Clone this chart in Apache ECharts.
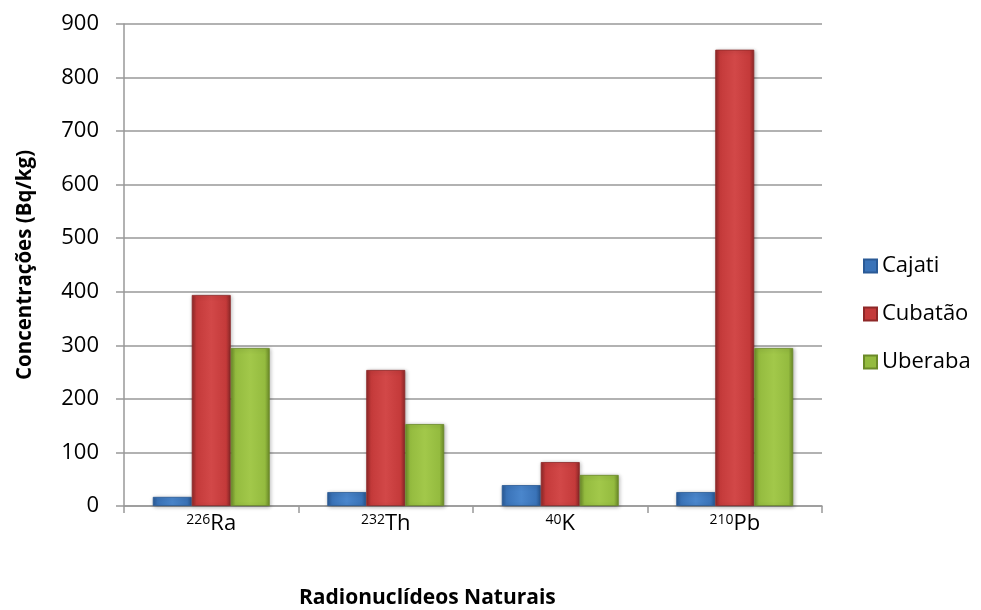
<!DOCTYPE html>
<html><head><meta charset="utf-8">
<script src="https://cdn.jsdelivr.net/npm/echarts@6/dist/echarts.min.js"></script>
<style>html,body{margin:0;padding:0;background:#fff}#c{width:981px;height:610px}</style>
</head><body><div id="c"></div>
<script>
const categories = ['{sup|226}Ra', '{sup|232}Th', '{sup|40}K', '{sup|210}Pb'];
const seriesNames = ['Cajati', 'Cubatão', 'Uberaba'];
const cajati = [17, 26, 39, 26];
const cubatao = [394, 254, 82, 852];
const uberaba = [295, 153, 58, 295];
const yTicks = { min: 0, max: 900, interval: 100 };

const FONT = '"Open Sans", Lato, sans-serif';
function grad(dark, body, light) {
  return new echarts.graphic.LinearGradient(0, 0, 1, 0, [
    { offset: 0, color: dark }, { offset: 0.12, color: body },
    { offset: 0.5, color: light }, { offset: 0.88, color: body },
    { offset: 1, color: dark }
  ]);
}
const styles = [
  { color: grad('#2a5a96', '#3a73b8', '#4a86cc'), border: '#2a5a96', legend: '#3a73b8' },
  { color: grad('#8e2828', '#c43a3a', '#d24848'), border: '#8e2828', legend: '#c43a3a' },
  { color: grad('#6b8a28', '#94bb3f', '#a2c84a'), border: '#6b8a28', legend: '#94bb3f' }
];
const dataSets = [cajati, cubatao, uberaba];

const chart = echarts.init(document.getElementById('c'));
chart.setOption({
  animation: false,
  textStyle: { fontFamily: FONT },
  title: {
    text: 'Radionuclídeos Naturais',
    left: 294, top: 583,
    textStyle: { fontFamily: FONT, fontSize: 21, fontWeight: 'bold', color: '#000' }
  },
  legend: {
    orient: 'vertical', left: 858, top: 250, itemGap: 26,
    icon: 'rect', itemWidth: 13, itemHeight: 13,
    textStyle: { fontFamily: FONT, fontSize: 22, color: '#000' },
    data: seriesNames.map((n, i) => ({ name: n, itemStyle: { color: styles[i].legend } }))
  },
  grid: { left: 124, right: 159, top: 24, bottom: 104 },
  xAxis: {
    type: 'category', data: categories,
    axisLine: { lineStyle: { color: '#999', width: 1.5 } },
    axisTick: { show: true, length: 7, lineStyle: { color: '#999', width: 1.5 } },
    axisLabel: {
      margin: 7, color: '#000',
      rich: {
        sup: { fontSize: 14, fontFamily: FONT, padding: [0, 0, 8, 0], color: '#000' }
      },
      fontSize: 22, fontFamily: FONT
    }
  },
  yAxis: {
    type: 'value', min: yTicks.min, max: yTicks.max, interval: yTicks.interval,
    name: 'Concentrações (Bq/kg)', nameLocation: 'middle', nameGap: 88, nameRotate: 90,
    nameTextStyle: { fontFamily: FONT, fontSize: 20.5, fontWeight: 'bold', color: '#000' },
    axisLine: { show: true, lineStyle: { color: '#999', width: 1.5 } },
    axisTick: { show: true, length: 8, lineStyle: { color: '#999', width: 1.5 } },
    axisLabel: { margin: 25, fontSize: 22, fontFamily: FONT, color: '#000' },
    splitLine: { lineStyle: { color: '#999', width: 1.5 } }
  },
  series: seriesNames.map((n, i) => ({
    name: n, type: 'bar', data: dataSets[i],
    barGap: '0%', barCategoryGap: '33%',
    itemStyle: {
      color: styles[i].color, borderColor: styles[i].border, borderWidth: 0.8,
      shadowColor: 'rgba(0,0,0,0.3)', shadowBlur: 4, shadowOffsetX: 1, shadowOffsetY: 1
    }
  }))
});
</script>
</body></html>
